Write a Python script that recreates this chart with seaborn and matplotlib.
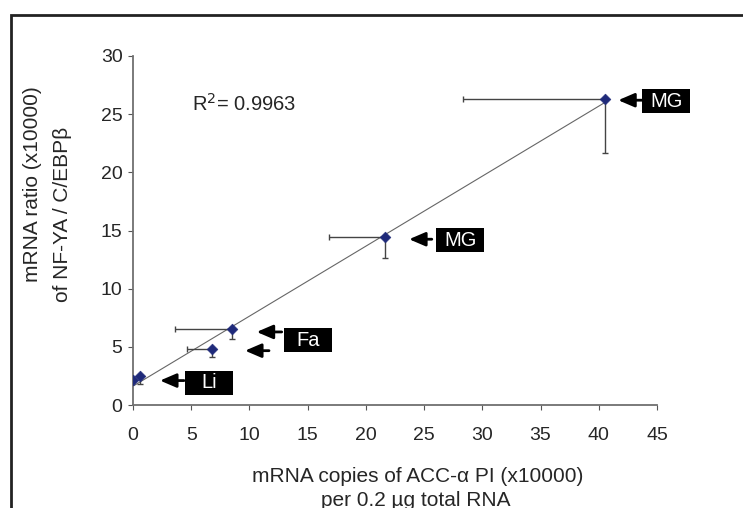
import numpy as np
import pandas as pd
import seaborn as sns
import matplotlib.pyplot as plt
from matplotlib.patches import Rectangle
from matplotlib.transforms import ScaledTranslation

sns.set_theme(style="white")
plt.rcParams['font.family'] = ['Liberation Sans', 'DejaVu Sans']

# Data
acc_copies = [0.03, 0.6, 6.8, 8.5, 21.6, 40.5]
nfya_ratio = [2.15, 2.52, 4.8, 6.5, 14.4, 26.3]
x_err_minus = [0.0, 0.0, 2.2, 4.9, 4.8, 12.2]
y_err_minus = [0.0, 0.75, 0.7, 0.85, 1.8, 4.6]

# Annotations: label text, arrow tip, arrow tail, label box centre
label_text = ["MG", "MG", "Fa", "", "Li"]
arrow_tip_x = [41.67, 23.71, 10.62, 9.62, 2.32]
arrow_tail_x = [43.73, 25.66, 12.77, 11.68, 4.38]
arrow_y = [26.2, 14.25, 6.28, 4.67, 2.1]
box_cx = [45.79, 28.12, 15.02, 0, 6.52]
box_cy = [26.1, 14.15, 5.55, 0, 1.9]

r2_text = "R$^2$= 0.9963"
x_label_lines = ["mRNA copies of ACC-\u03b1 PI (x10000)", "per 0.2 \u00b5g total RNA"]
y_label_lines = ["mRNA ratio (x10000)", "of NF-YA / C/EBP\u03b2"]

df = pd.DataFrame({"x": acc_copies, "y": nfya_ratio})

W, H = 743, 508
fig = plt.figure(figsize=(W / 100, H / 100), dpi=100)
ax = fig.add_axes([133 / W, 1 - 405 / H, 524 / W, 349 / H])

# figure border (only top and left edges fall inside the image)
fig.patches.append(Rectangle((11 / W, -0.2), 1.5, 0.2 + 1 - 15 / H,
                             transform=fig.transFigure, fill=False,
                             edgecolor="#222222", linewidth=2))

# linear trendline
slope, intercept = np.polyfit(acc_copies, nfya_ratio, 1)
xs = np.array([min(acc_copies), max(acc_copies)])
sns.lineplot(x=xs, y=slope * xs + intercept, ax=ax, color="#666666", linewidth=0.8)

# one-sided error bars
zeros = [0] * len(acc_copies)
ax.errorbar(acc_copies, nfya_ratio,
            xerr=[x_err_minus, zeros], yerr=[y_err_minus, zeros],
            fmt="none", ecolor="#444444", elinewidth=1, capsize=2.5, capthick=1)

sns.scatterplot(data=df, x="x", y="y", ax=ax, marker="D", s=30,
                color="#1f2a7a", edgecolor="#1f2a7a", zorder=5)

# arrows and black labels (fixed-size boxes, 48x24 px)
for txt, tx, tl, ay, bx, by in zip(label_text, arrow_tip_x, arrow_tail_x, arrow_y,
                                   box_cx, box_cy):
    ax.annotate("", xy=(tx, ay), xytext=(tl, ay),
                arrowprops=dict(arrowstyle="-|>,head_length=0.7,head_width=0.3",
                                color="black", lw=2, mutation_scale=14,
                                shrinkA=0, shrinkB=0),
                annotation_clip=False)
    if txt:
        tr = fig.dpi_scale_trans + ScaledTranslation(bx, by, ax.transData)
        ax.add_patch(Rectangle((-0.24, -0.12), 0.48, 0.24, transform=tr,
                               facecolor="black", edgecolor="none", clip_on=False,
                               zorder=6))
        ax.text(bx, by, txt, color="white", fontsize=14.5, va="center",
                ha="center", clip_on=False, zorder=7)

ax.text(5.1, 25.9, r2_text, fontsize=14.5, va="center", ha="left")

ax.set_xlim(0, 45)
ax.set_ylim(0, 30)
ax.set_xticks(range(0, 46, 5))
ax.set_yticks(range(0, 31, 5))
ax.tick_params(axis="both", labelsize=14, length=3.5, width=0.8,
               direction="out", color="#555555", bottom=True, left=True)
ax.tick_params(axis="x", pad=12)
ax.tick_params(axis="y", pad=4)
for s in ["top", "right"]:
    ax.spines[s].set_visible(False)
for s in ["left", "bottom"]:
    ax.spines[s].set_color("#707070")
    ax.spines[s].set_linewidth(1.3)
ax.set_xlabel("")
ax.set_ylabel("")

# axis titles, placed as in the reference
fig.text(418 / W, 1 - 476 / H, x_label_lines[0], fontsize=15, ha="center", va="center")
fig.text(416 / W, 1 - 500 / H, x_label_lines[1], fontsize=15, ha="center", va="center")
fig.text(33 / W, 1 - 184 / H, y_label_lines[0], fontsize=15, ha="center", va="center",
         rotation=90)
fig.text(62 / W, 1 - 214 / H, y_label_lines[1], fontsize=15, ha="center", va="center",
         rotation=90)

fig.savefig("out.png", dpi=100)
